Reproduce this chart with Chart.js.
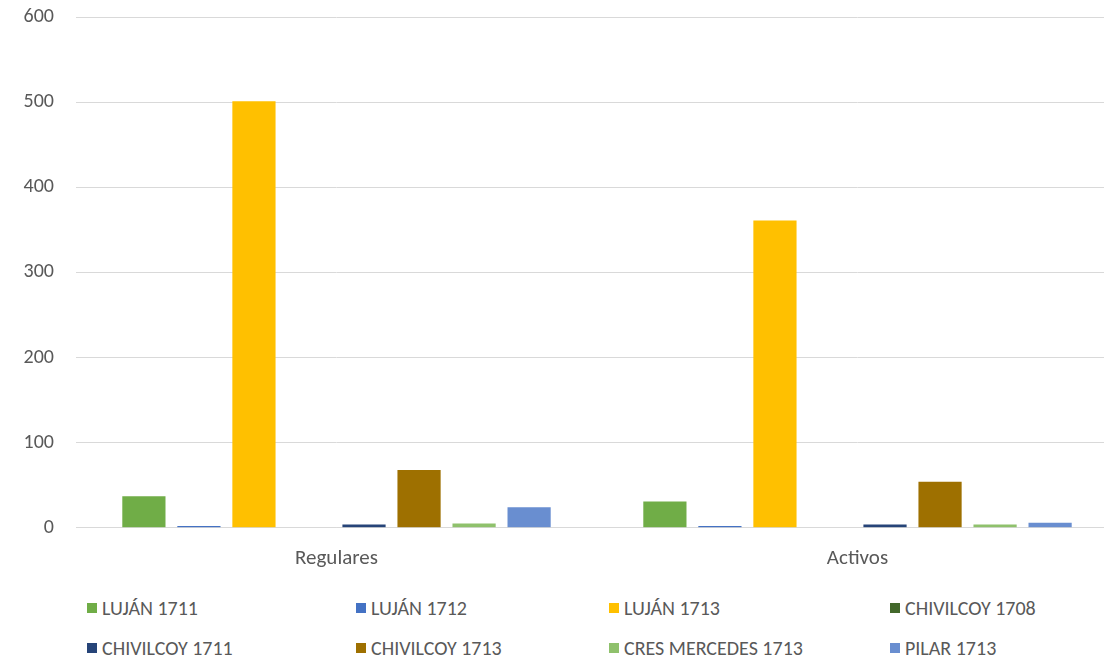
<!DOCTYPE html>
<html>
<head>
<meta charset="utf-8">
<script src="https://cdn.jsdelivr.net/npm/chart.js@4/dist/chart.umd.min.js"></script>
<style>
  html, body { margin: 0; padding: 0; background: #fff; overflow: hidden; }
  #wrap { position: absolute; left: 0; top: -17px; width: 1118px; height: 606px; }
  #legend { position: absolute; left: 0; top: 596px; width: 1104px; font-family: Carlito, Lato, sans-serif; font-size: 20px; color: #595959; }
  .item { position: absolute; display: flex; align-items: center; white-space: nowrap; }
  .box { width: 10px; height: 10px; margin-right: 5px; }
</style>
</head>
<body>
<div id="wrap"><canvas id="chart"></canvas></div>
<div id="legend"></div>
<script>
// Categorías y series
const categories = ['Regulares', 'Activos'];
const seriesNames = ['LUJÁN 1711', 'LUJÁN 1712', 'LUJÁN 1713', 'CHIVILCOY 1708',
                     'CHIVILCOY 1711', 'CHIVILCOY 1713', 'CRES MERCEDES 1713', 'PILAR 1713'];
const lujan1711 = [37, 31];
const lujan1712 = [2, 2];
const lujan1713 = [501, 361];
const chivilcoy1708 = [0, 0];
const chivilcoy1711 = [4, 4];
const chivilcoy1713 = [68, 54];
const cresMercedes1713 = [5, 4];
const pilar1713 = [24, 6];
const yTicks = [0, 100, 200, 300, 400, 500, 600];

const seriesValues = [lujan1711, lujan1712, lujan1713, chivilcoy1708,
                      chivilcoy1711, chivilcoy1713, cresMercedes1713, pilar1713];
const colors = ['#70AD47', '#4472C4', '#FFC000', '#43682B',
                '#264478', '#9E7000', '#8FC16C', '#698ED0'];

const fontFamily = 'Carlito, Lato, sans-serif';

const ctx = document.getElementById('chart').getContext('2d');
const chart = new Chart(ctx, {
    type: 'bar',
    data: {
        labels: categories,
        datasets: seriesNames.map((name, i) => ({
            label: name,
            data: seriesValues[i],
            backgroundColor: colors[i],
            borderWidth: 0,
            categoryPercentage: 0.845,
            barPercentage: 0.785
        }))
    },
    options: {
        responsive: true,
        maintainAspectRatio: false,
        animation: false,
        layout: { padding: { top: 8, right: 0, left: 0, bottom: 0 } },
        plugins: {
            legend: { display: false },
            tooltip: { enabled: false }
        },
        scales: {
            x: {
                grid: { display: false, drawTicks: false },
                border: { color: '#d9d9d9', width: 1 },
                ticks: { color: '#595959', font: { family: fontFamily, size: 21 }, padding: 18 }
            },
            y: {
                min: 0,
                max: 600,
                afterBuildTicks: scale => { scale.ticks = yTicks.map(v => ({ value: v })); },
                afterFit: scale => { scale.width = 76; },
                grid: { color: '#d9d9d9', drawTicks: false },
                border: { display: false },
                ticks: { color: '#595959', font: { family: fontFamily, size: 20 }, padding: 22 }
            }
        }
    }
});

// Leyenda en HTML: 4 columnas, 2 filas
const legendEl = document.getElementById('legend');
const colX = [87, 356, 609, 890];
seriesNames.forEach((name, i) => {
    const div = document.createElement('div');
    div.className = 'item';
    div.style.left = colX[i % 4] + 'px';
    div.style.top = (Math.floor(i / 4) * 40) + 'px';
    div.innerHTML = `<span class="box" style="background:${colors[i]}"></span>${name}`;
    legendEl.appendChild(div);
});
</script>
</body>
</html>
